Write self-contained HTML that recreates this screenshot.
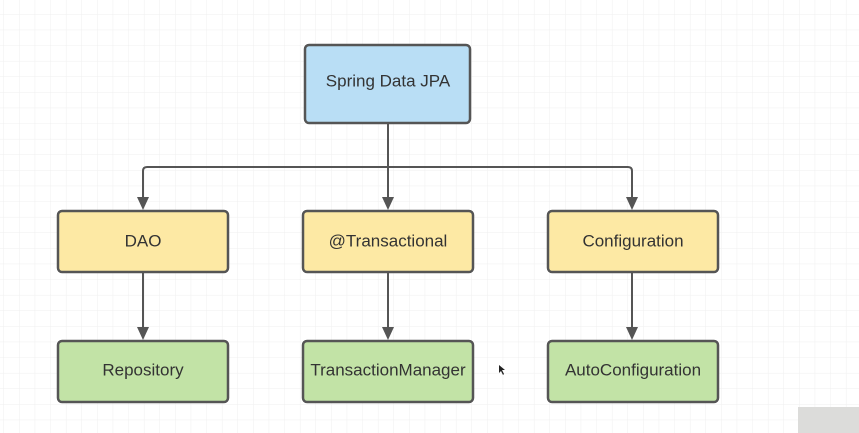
<!DOCTYPE html>
<html><head><style>
html,body{margin:0;padding:0;background:#fff;}
svg{display:block;}
text{font-family:"Liberation Sans",sans-serif;font-size:17px;fill:#333;text-anchor:middle;dominant-baseline:central;}
</style></head><body>
<svg width="859" height="433" viewBox="0 0 859 433" xmlns="http://www.w3.org/2000/svg">
<defs>
<pattern id="g" x="3.5" y="-1.5" width="15.6" height="15.6" patternUnits="userSpaceOnUse">
<path d="M0 0V15.6M0 0H15.6" stroke="#efefef" stroke-width="1" fill="none"/>
</pattern>
<marker id="a" markerWidth="10" markerHeight="10" refX="5" refY="9" orient="auto" markerUnits="userSpaceOnUse" viewBox="0 0 10 10">
</marker>
</defs>
<rect width="859" height="433" fill="url(#g)"/>
<g stroke="#555" stroke-width="2" fill="none">
<path d="M388 123V167"/>
<path d="M143 198V171Q143 167 147 167H628Q632 167 632 171V198"/>
<path d="M388 167V198"/>
<path d="M143 272V328M388 272V328M632 272V328"/>
</g>
<g fill="#555">
<path d="M137 197H149L143 210Z"/><path d="M382 197H394L388 210Z"/><path d="M626 197H638L632 210Z"/>
<path d="M137 327H149L143 340Z"/><path d="M382 327H394L388 340Z"/><path d="M626 327H638L632 340Z"/>
</g>
<g stroke="#555" stroke-width="2.5">
<rect x="305" y="45" width="165" height="78" rx="4" fill="#b9def5"/>
<rect x="58" y="211" width="170" height="61" rx="4" fill="#fde9a4"/>
<rect x="303" y="211" width="170" height="61" rx="4" fill="#fde9a4"/>
<rect x="548" y="211" width="170" height="61" rx="4" fill="#fde9a4"/>
<rect x="58" y="341" width="170" height="61" rx="4" fill="#c2e3a6"/>
<rect x="303" y="341" width="170" height="61" rx="4" fill="#c2e3a6"/>
<rect x="548" y="341" width="170" height="61" rx="4" fill="#c2e3a6"/>
</g>
<text x="388" y="81">Spring Data JPA</text>
<text x="143" y="241">DAO</text>
<text x="388" y="241">@Transactional</text>
<text x="633" y="241">Configuration</text>
<text x="143" y="370">Repository</text>
<text x="388" y="370">TransactionManager</text>
<text x="633" y="370">AutoConfiguration</text>
<path d="M499 365L499 373L501 371L503 375L504 374L502 370L505 370Z" fill="#222"/>
<rect x="798" y="407" width="61" height="26" fill="#dcdcda"/>
</svg>
</body></html>
